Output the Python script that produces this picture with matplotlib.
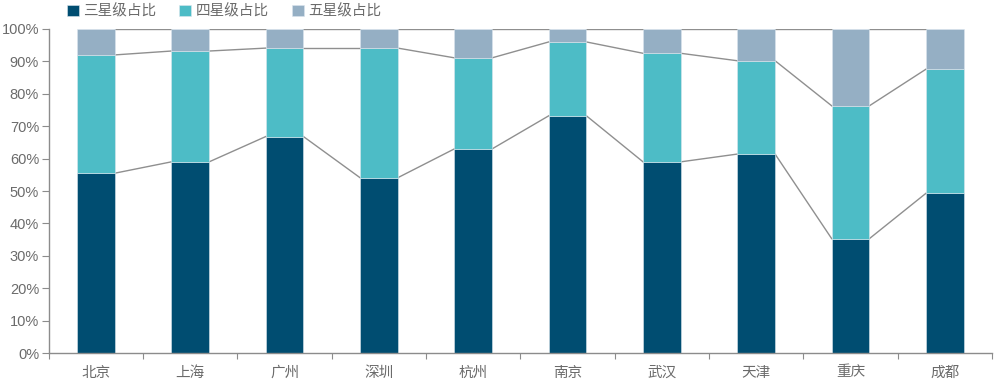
import matplotlib
matplotlib.use("Agg")
import matplotlib.pyplot as plt
import numpy as np

plt.rcParams["font.family"] = ["Liberation Sans", "Noto Sans CJK SC"]

cities = ["北京", "上海", "广州", "深圳", "杭州", "南京", "武汉", "天津", "重庆", "成都"]
three_star = [55.5, 59.0, 66.8, 54.1, 63.0, 73.2, 59.0, 61.4, 35.3, 49.3]
four_star = [36.5, 34.2, 27.3, 40.0, 28.1, 22.8, 33.5, 28.8, 41.0, 38.3]
five_star = [8.0, 6.8, 5.9, 5.9, 8.9, 4.0, 7.5, 9.8, 23.7, 12.4]
series_names = ["三星级占比", "四星级占比", "五星级占比"]
colors = ["#004d71", "#4dbcc6", "#95afc4"]
text_color = "#6b6b6b"

fig = plt.figure(figsize=(9.96, 3.84), dpi=100)
ax = fig.add_axes([0.049, 0.0807, 0.947, 0.8438])

x = np.arange(len(cities))
width = 0.4
bottom = np.zeros(len(cities))
handles = []
levels = []
for vals, name, c in zip([three_star, four_star, five_star], series_names, colors):
    vals = np.array(vals)
    b = ax.bar(x, vals, width, bottom=bottom, color=c, label=name,
               edgecolor="#dbe6ee", linewidth=0.4, zorder=2)
    handles.append(b)
    bottom = bottom + vals
    levels.append(bottom.copy())

# series lines between neighbouring bars
for lev in levels:
    for i in range(len(cities) - 1):
        ax.plot([x[i] + width / 2, x[i + 1] - width / 2], [lev[i], lev[i + 1]],
                color="#8f8f8f", linewidth=1, zorder=1)

ax.set_xlim(-0.5, len(cities) - 0.5)
ax.set_ylim(0, 100)
ax.set_yticks(range(0, 101, 10))
ax.set_yticklabels([f"{v}%" for v in range(0, 101, 10)])
ax.set_xticks(np.arange(-0.5, len(cities), 1))
ax.set_xticklabels([])
ax.set_xticks(x, minor=True)
ax.set_xticklabels(cities, minor=True)
ax.tick_params(axis="x", which="minor", length=0, pad=9)
ax.tick_params(axis="x", which="major", length=4, direction="out", color="#8c8c8c")
ax.tick_params(axis="y", length=5, direction="out", color="#8c8c8c", pad=2)
ax.tick_params(which="both", labelsize=10.5, labelcolor=text_color)

for s in ["top", "right"]:
    ax.spines[s].set_visible(False)
for s in ["left", "bottom"]:
    ax.spines[s].set_color("#8c8c8c")
    ax.spines[s].set_linewidth(1)

fig.legend(handles=handles, labels=series_names, loc="center left",
           bbox_to_anchor=(0.054, 0.971), ncol=3, frameon=False,
           fontsize=10.5, handlelength=0.8, handleheight=0.8,
           handletextpad=0.3, columnspacing=1.6, labelcolor=text_color)

fig.savefig("out.png", dpi=100)
